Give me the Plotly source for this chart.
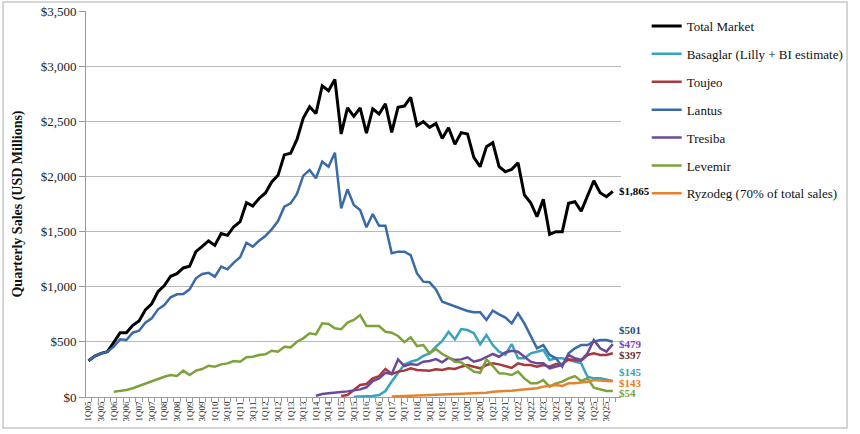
import plotly.graph_objects as go

# quarters 1Q05 .. 4Q25
quarters = [f"{q}Q{y % 100:02d}" for y in range(2005, 2026) for q in range(1, 5)]
tick_idx = list(range(0, len(quarters), 2))
tick_labels = [quarters[i] for i in tick_idx]

total_market = [
    329, 371, 396, 411, 495, 583, 583, 650, 690, 790,
    845, 955, 1010, 1095, 1118, 1170, 1185, 1318, 1365, 1415,
    1375, 1482, 1466, 1544, 1590, 1762, 1732, 1800, 1850, 1950,
    2010, 2195, 2210, 2335, 2530, 2632, 2570, 2822, 2778, 2880,
    2385, 2622, 2545, 2622, 2392, 2612, 2566, 2658, 2400, 2627,
    2638, 2717, 2460, 2496, 2445, 2481, 2345, 2442, 2291, 2397,
    2385, 2173, 2088, 2270, 2306, 2088, 2043, 2064, 2124, 1832,
    1762, 1635, 1792, 1475, 1499, 1499, 1756, 1771, 1686, 1832,
    1961, 1852, 1816, 1865,
]
basaglar = [None] * 42 + [
    2, 5, 5, 10, 18, 54, 140, 220, 295, 320,
    335, 372, 396, 456, 508, 592, 523, 616, 607, 578,
    478, 562, 471, 411, 384, 480, 351, 351, 396, 411,
    426, 335, 351, 351, 335, 320, 305, 184, 169, 169,
    160, 145,
]
toujeo = [None] * 40 + [
    9, 18, 63, 109, 118, 169, 190, 254, 208, 230,
    239, 260, 245, 245, 239, 251, 245, 260, 254, 275,
    290, 275, 260, 290, 305, 296, 280, 264, 305, 290,
    290, 275, 290, 275, 300, 299, 341, 335, 329, 381,
    396, 381, 381, 397,
]
lantus = [
    329, 371, 396, 411, 456, 523, 517, 583, 601, 674,
    713, 795, 834, 904, 931, 934, 976, 1076, 1115, 1127,
    1091, 1182, 1158, 1218, 1267, 1399, 1363, 1417, 1460, 1520,
    1595, 1726, 1756, 1841, 2007, 2058, 1983, 2134, 2088, 2215,
    1711, 1883, 1741, 1696, 1539, 1659, 1553, 1553, 1303, 1318,
    1318, 1287, 1121, 1046, 1040, 976, 864, 843, 825, 804,
    780, 768, 768, 698, 783, 750, 720, 668, 759, 668,
    547, 441, 471, 381, 351, 275, 396, 441, 471, 471,
    501, 517, 517, 501,
]
tresiba = [None] * 36 + [
    12, 27, 33, 42, 45, 51, 57, 69, 88, 145,
    169, 220, 208, 341, 281, 299, 290, 320, 326, 344,
    314, 356, 335, 341, 360, 320, 335, 365, 390, 365,
    404, 420, 411, 365, 320, 305, 305, 260, 275, 290,
    381, 351, 335, 396, 517, 441, 411, 479,
]
levemir = [None] * 4 + [
    48, 57, 63, 79, 100, 124, 145, 169, 184, 199,
    190, 239, 199, 239, 254, 284, 275, 296, 305, 326,
    320, 360, 365, 381, 387, 420, 411, 455, 450, 501,
    532, 578, 568, 668, 662, 623, 614, 674, 698, 743,
    644, 644, 644, 592, 583, 553, 497, 541, 462, 471,
    396, 435, 390, 360, 320, 314, 275, 230, 220, 341,
    281, 215, 212, 199, 230, 169, 124, 124, 154, 94,
    124, 139, 169, 190, 145, 170, 85, 70, 55, 54,
]
ryzodeg = [None] * 48 + [
    5, 8, 12, 13, 15, 16, 18, 20, 22, 24,
    25, 27, 30, 33, 36, 39, 48, 50, 52, 57,
    63, 69, 79, 79, 94, 100, 109, 100, 124, 124,
    130, 139, 154, 148, 145, 143,
]

FONT = "Liberation Serif"

# name, values, line colour, width, end label colour, end label y shift (px)
series = [
    ("Total Market", total_market, "#000000", 3, "#000000", 0),
    ("Basaglar (Lilly + BI estimate)", basaglar, "#38A3BE", 2.5, "#3AA0BE", 9),
    ("Toujeo", toujeo, "#A8383B", 2.5, "#6A2E2E", -2),
    ("Lantus", lantus, "#3A6AA8", 2.5, "#2E4A70", 12),
    ("Tresiba", tresiba, "#6A4A9A", 2.5, "#8040C0", 0),
    ("Levemir", levemir, "#7EA23A", 2.5, "#7EA23A", -2),
    ("Ryzodeg (70% of total sales)", ryzodeg, "#E5822F", 2.5, "#F07A20", -2),
]

x_idx = list(range(len(quarters)))

fig = go.Figure()
annotations = []
for name, vals, color, width, lab_color, yshift in series:
    fig.add_trace(
        go.Scatter(
            x=x_idx,
            y=vals,
            mode="lines",
            name=name,
            legendgroup=name,
            line=dict(color=color, width=width),
            customdata=[quarters[i] for i in x_idx],
            hovertemplate="%{customdata}: $%{y:,.0f}<extra>" + name + "</extra>",
        )
    )
    annotations.append(
        dict(
            x=x_idx[-1],
            y=vals[-1],
            xref="x",
            yref="y",
            text="<b>$" + f"{vals[-1]:,.0f}" + "</b>",
            showarrow=False,
            xanchor="left",
            yanchor="middle",
            xshift=4,
            yshift=yshift,
            font=dict(family=FONT, size=11, color=lab_color),
        )
    )

fig.update_layout(
    width=860,
    height=434,
    margin=dict(l=86, r=232, t=11, b=37),
    paper_bgcolor="white",
    plot_bgcolor="white",
    font=dict(family=FONT, color="#222222"),
    annotations=annotations,
    showlegend=True,
    legend=dict(
        x=1.048,
        y=1.0,
        xanchor="left",
        yanchor="top",
        traceorder="grouped",
        tracegroupgap=8,
        font=dict(family=FONT, size=13, color="#111111"),
        bgcolor="rgba(0,0,0,0)",
    ),
    xaxis=dict(
        range=[-0.4, 84.3],
        tickmode="array",
        tickvals=tick_idx,
        ticktext=tick_labels,
        tickangle=-90,
        ticks="",
        tickfont=dict(family=FONT, size=9, color="#222222"),
        showgrid=False,
        showline=True,
        linecolor="#9a9a9a",
        linewidth=1,
        zeroline=False,
        automargin=False,
        minor=dict(ticks="outside", tick0=-0.5, dtick=1, ticklen=4, tickcolor="#9a9a9a", showgrid=False),
    ),
    yaxis=dict(
        range=[0, 3500],
        dtick=500,
        tickprefix="$",
        tickformat=",.0f",
        ticks="outside",
        ticklen=6,
        tickcolor="#9a9a9a",
        tickfont=dict(family=FONT, size=13, color="#222222"),
        showgrid=True,
        gridcolor="#b8b8b8",
        gridwidth=1,
        showline=True,
        linecolor="#9a9a9a",
        zeroline=False,
        title=dict(
            text="<b>Quarterly Sales (USD Millions)</b>",
            font=dict(family=FONT, size=14, color="#111111"),
            standoff=14,
        ),
        automargin=False,
    ),
    shapes=[
        dict(
            type="rect",
            xref="paper",
            yref="paper",
            x0=-0.155,
            x1=1.4225,
            y0=-0.0803,
            y1=1.0233,
            line=dict(color="#c8c8c8", width=1.5),
            fillcolor="rgba(0,0,0,0)",
            layer="below",
        )
    ],
)

fig.write_html(
    "out.html",
    config={"displayModeBar": False},
    post_script="document.body.style.margin='0';",
)
